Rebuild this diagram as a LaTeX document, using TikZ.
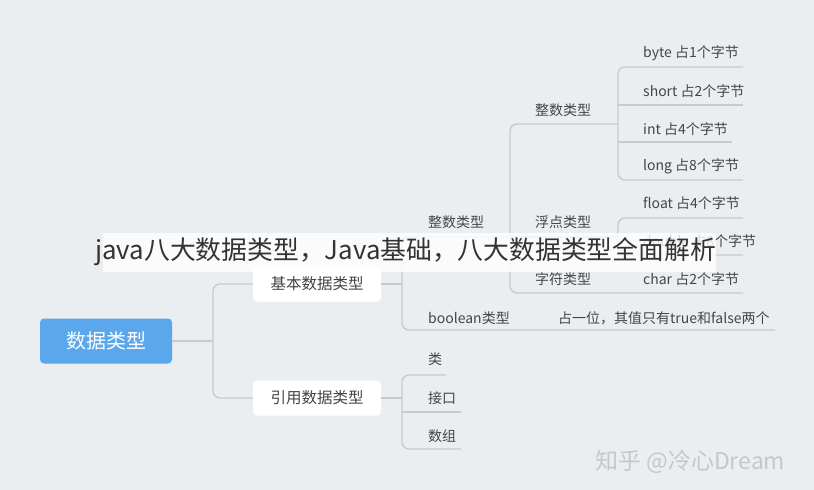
\documentclass[tikz,border=0pt]{standalone}
\usepackage{fontspec}
\setmainfont{Noto Sans CJK SC}
\definecolor{bggray}{HTML}{EBEEF1}
\definecolor{linegray}{HTML}{C6CBD0}
\definecolor{rootblue}{HTML}{5AA7EC}
\definecolor{textgray}{HTML}{454545}
\begin{document}
\begin{tikzpicture}[x=1pt,y=-1pt,
    line/.style={draw=linegray,line width=1.4pt,rounded corners=7pt},
    leaf/.style={anchor=west,text=textgray,inner sep=0pt,font=\fontsize{14}{14}\selectfont},
    box/.style={fill=white,rounded corners=4pt,minimum width=128pt,minimum height=35pt,
      text=textgray,font=\fontsize{15.5}{15.5}\selectfont}]

    \fill[bggray] (0,0) rectangle (814,490);

    % main branches
    \node[fill=rootblue,rounded corners=4pt,minimum width=132pt,minimum height=45pt,
      text=white,font=\fontsize{20}{20}\selectfont] (root) at (106,341) {数据类型};
    \node[box] (basic) at (317,284) {基本数据类型};
    \node[box] (ref) at (317,398) {引用数据类型};
    \coordinate (j0) at (213,341);
    \draw[line] (root.east) -- (j0);
    \draw[line] (basic.west) -| (j0) |- (ref.west);

    % basic types
    \coordinate (b1) at (402,284);
    \coordinate (i2) at (510,237);
    \coordinate (boolend) at (775,330);
    \draw[line] (basic.east) -- (b1);
    \draw[line] (i2) -| (b1) |- (boolend);
    \node[leaf] (int2) at (428,222) {整数类型};
    \node[leaf] (bool) at (428,318) {boolean类型};
    \node[leaf] (boolnote) at (558,318) {占一位，其值只有true和false两个};

    \coordinate (n3) at (618,124);
    \coordinate (f3) at (618,237);
    \coordinate (charend) at (743,293);
    \draw[line] (n3) -| (i2) |- (charend);
    \draw[line] (i2) -- (f3);
    \node[leaf] (int3) at (535,110) {整数类型};
    \node[leaf] (float3) at (535,222) {浮点类型};
    \node[leaf] (char3) at (535,279) {字符类型};

    % integer leaves
    \coordinate (byteend) at (743,67);
    \coordinate (shortend) at (743,105);
    \coordinate (intend) at (732,142);
    \coordinate (longend) at (743,180);
    \draw[line] (byteend) -| (n3) |- (longend);
    \draw[line] (n3 |- shortend) -- (shortend);
    \draw[line] (n3 |- intend) -- (intend);
    \node[leaf] (byte) at (643,53) {byte 占1个字节};
    \node[leaf] (short) at (643,91) {short 占2个字节};
    \node[leaf] (int) at (643,129) {int 占4个字节};
    \node[leaf] (long) at (643,166) {long 占8个字节};

    % float leaves
    \coordinate (floatend) at (743,218);
    \coordinate (doubleend) at (743,255);
    \draw[line] (floatend) -| (f3) |- (doubleend);
    \node[leaf] (float) at (643,203) {float 占4个字节};
    \node[leaf] (double) at (643,241) {double 占8个字节};
    \node[leaf] (char) at (643,279) {char 占2个字节};

    % reference types
    \coordinate (r1) at (402,398);
    \coordinate (classend) at (446,375);
    \coordinate (ifend) at (461,412);
    \coordinate (arrend) at (461,449);
    \draw[line] (ref.east) -- (r1);
    \draw[line] (classend) -| (r1) |- (arrend);
    \draw[line] (r1 |- ifend) -- (ifend);
    \node[leaf] (class) at (428,359) {类};
    \node[leaf] (iface) at (428,398) {接口};
    \node[leaf] (arr) at (428,436) {数组};

    % caption band and watermark
    \fill[white,opacity=0.8] (103,233) rectangle (716,272);
    \node[anchor=west,inner sep=0pt,text=black!80,font=\fontsize{25.8}{25.8}\selectfont]
      (caption) at (95,252) {java八大数据类型，Java基础，八大数据类型全面解析};
    \node[anchor=west,inner sep=0pt,text=black!22,font=\fontsize{23}{23}\selectfont]
      (mark) at (595,462) {知乎 @冷心Dream};
\end{tikzpicture}
\end{document}
